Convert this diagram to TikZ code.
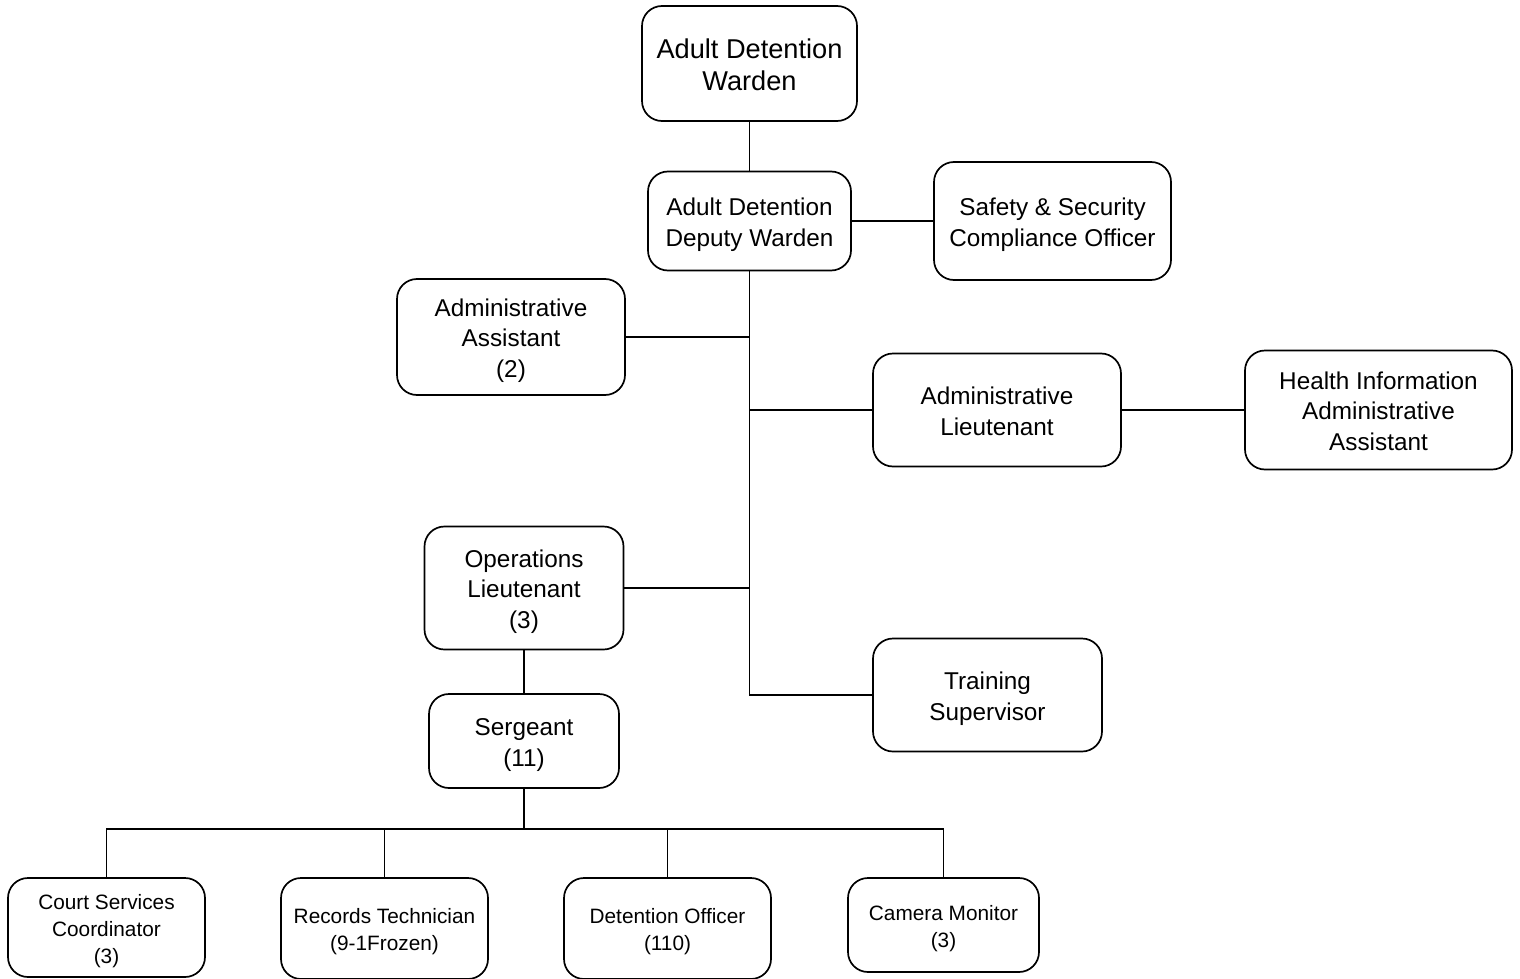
\documentclass[tikz,border=0pt]{standalone}
\usepackage{fontspec}
\setmainfont{Liberation Sans}
\begin{document}
\begin{tikzpicture}[x=1pt,y=-1pt,
  box/.style={draw, line width=1.7pt, rounded corners=20pt, align=center, inner sep=0pt, text depth=0pt},
  big/.style={font=\fontsize{27.2}{32}\selectfont, text height=53.6pt},
  mid/.style={font=\fontsize{24.3}{30.5}\selectfont, text height=50pt},
  midthree/.style={font=\fontsize{24.3}{30.5}\selectfont, text height=80.5pt},
  small/.style={font=\fontsize{20.8}{27}\selectfont, text height=44pt},
  smallthree/.style={font=\fontsize{20.8}{27}\selectfont, text height=71pt},
  link/.style={line width=1.7pt}]
\useasboundingbox (0,0) rectangle (1520,979);

% top of the chain
\node[box,big,minimum width=215pt,minimum height=115pt] (warden) at (749.5,63.5) {Adult Detention\\Warden};
\node[box,mid,minimum width=203pt,minimum height=99pt] (deputy) at (749.5,221) {Adult Detention\\Deputy Warden};
\node[box,mid,minimum width=237pt,minimum height=118pt] (safety) at (1052.5,221) {Safety \& Security\\Compliance Officer};

% direct reports of the deputy warden
\node[box,midthree,minimum width=228pt,minimum height=116pt] (adminasst) at (511,337) {Administrative\\Assistant\\(2)};
\node[box,mid,minimum width=248pt,minimum height=113pt] (adminlt) at (997,410) {Administrative\\Lieutenant};
\node[box,midthree,minimum width=267pt,minimum height=119pt] (health) at (1378.5,410) {Health Information\\Administrative\\Assistant};
\node[box,midthree,minimum width=199pt,minimum height=123pt] (opslt) at (524,588) {Operations\\Lieutenant\\(3)};
\node[box,mid,minimum width=229pt,minimum height=113pt] (training) at (987.5,695) {Training\\Supervisor};
\node[box,mid,minimum width=190pt,minimum height=94pt] (sergeant) at (524,741) {Sergeant\\(11)};

% line staff
\node[box,smallthree,minimum width=197pt,minimum height=99pt] (court) at (106.5,927.5) {Court Services\\Coordinator\\(3)};
\node[box,small,minimum width=207pt,minimum height=101pt] (records) at (384.5,928.5) {Records Technician\\(9-1Frozen)};
\node[box,small,minimum width=207pt,minimum height=101pt] (officer) at (667.5,928.5) {Detention Officer\\(110)};
\node[box,small,minimum width=191pt,minimum height=94pt] (camera) at (943.5,925) {Camera Monitor\\(3)};

% connectors
\draw[link] (warden.south) -- (deputy.north);
\draw[link] (deputy.east) -- (safety.west);
\coordinate (spineend) at (deputy.south |- training.west);
\draw[link] (deputy.south) -- (spineend) -- (training.west);
\draw[link] (adminasst.east) -- (adminasst.east -| deputy.south);
\draw[link] (adminlt.west -| deputy.south) -- (adminlt.west);
\draw[link] (adminlt.east) -- (health.west);
\draw[link] (opslt.east) -- (opslt.east -| deputy.south);
\draw[link] (opslt.south) -- (sergeant.north);

\coordinate (bus) at (524,829);
\draw[link] (sergeant.south) -- (bus);
\draw[link] (court.north) -- (court.north |- bus) -- (camera.north |- bus) -- (camera.north);
\draw[link] (records.north) -- (records.north |- bus);
\draw[link] (officer.north) -- (officer.north |- bus);
\end{tikzpicture}
\end{document}
